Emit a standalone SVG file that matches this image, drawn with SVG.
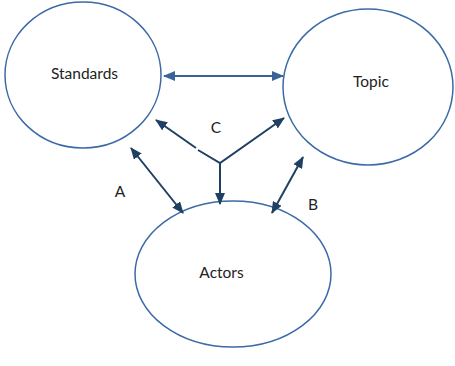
<svg xmlns="http://www.w3.org/2000/svg" width="455" height="366" viewBox="0 0 455 366">
  <style>
    .node { fill: #ffffff; stroke: #3b6aa6; stroke-width: 1.5; }
    .edge { fill: none; stroke: #1f3f63; stroke-width: 2; }
    .edge-lt { fill: none; stroke: #3a6498; stroke-width: 2; }
    .lbl { font-family: Lato, "Open Sans", "Liberation Sans", sans-serif; font-size: 15.5px; fill: #222222; }
  </style>
  <defs>
    <marker id="ah" viewBox="0 0 12 10" refX="11" refY="5" markerWidth="12" markerHeight="10" markerUnits="userSpaceOnUse" orient="auto-start-reverse">
      <path d="M0,0 L12,5 L0,10 Z" fill="#1f3f63"/>
    </marker>
    <marker id="ah-lt" viewBox="0 0 12 10" refX="11" refY="5" markerWidth="12" markerHeight="10" markerUnits="userSpaceOnUse" orient="auto-start-reverse">
      <path d="M0,0 L12,5 L0,10 Z" fill="#3a6498"/>
    </marker>
  </defs>
  <rect width="455" height="366" fill="#ffffff"/>

  <g id="standards">
    <ellipse class="node" cx="83" cy="75" rx="78" ry="73"/>
    <text class="lbl" x="84.5" y="79" text-anchor="middle">Standards</text>
  </g>
  <g id="topic">
    <ellipse class="node" cx="368" cy="87" rx="85" ry="78"/>
    <text class="lbl" x="371" y="87" text-anchor="middle">Topic</text>
  </g>
  <g id="actors">
    <ellipse class="node" cx="233" cy="274" rx="98" ry="73"/>
    <text class="lbl" x="221.5" y="278" text-anchor="middle">Actors</text>
  </g>

  <g id="connectors">
    <line class="edge-lt" x1="164" y1="76" x2="283" y2="76" marker-start="url(#ah-lt)" marker-end="url(#ah-lt)"/>
    <line class="edge" x1="131" y1="148" x2="183" y2="213" marker-start="url(#ah)" marker-end="url(#ah)"/>
    <line class="edge" x1="303" y1="157" x2="272" y2="213" marker-start="url(#ah)" marker-end="url(#ah)"/>
    <path class="edge" d="M196,148 L156,120" marker-end="url(#ah)"/>
    <path class="edge" d="M198,150 L220,163 L284,118" marker-end="url(#ah)"/>
    <line class="edge" x1="220" y1="163" x2="220" y2="204" marker-end="url(#ah)"/>
  </g>

  <g id="labels">
    <text class="lbl" x="216" y="133" text-anchor="middle">C</text>
    <text class="lbl" x="120" y="197" text-anchor="middle">A</text>
    <text class="lbl" x="313" y="210" text-anchor="middle">B</text>
  </g>
</svg>
